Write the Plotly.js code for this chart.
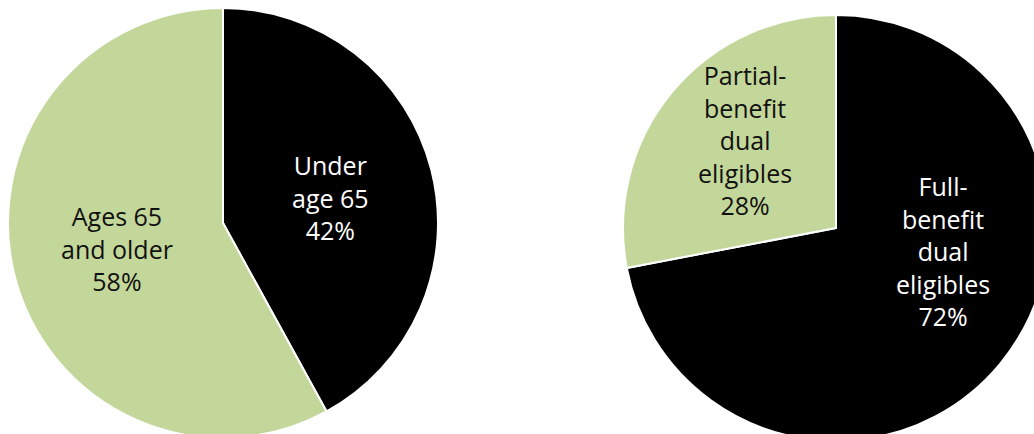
<!DOCTYPE html>
<html>
<head>
<meta charset="utf-8">
<script src="https://cdn.plot.ly/plotly-3.0.1.min.js"></script>
<style>
html,body{margin:0;padding:0;overflow:hidden;background:#fff;width:1034px;height:434px;}
#chart{position:absolute;left:0;top:0;}
</style>
</head>
<body>
<div id="chart"></div>
<script>
// Left pie: by age
const ageLabels = ["Under<br>age 65", "Ages 65<br>and older"];
const ageValues = [42, 58];
// Right pie: by benefit type
const benefitLabels = ["Full-<br>benefit<br>dual<br>eligibles", "Partial-<br>benefit<br>dual<br>eligibles"];
const benefitValues = [72, 28];

const sliceColors = ["#000000", "#c4d79b"];
const textColors = ["#ffffff", "#111111"];

const W = 1060, H = 450;
function dom(cx, cy, r) {
  return {x: [(cx - r) / W, (cx + r) / W], y: [(H - cy - r) / H, (H - cy + r) / H]};
}

const common = {
  type: "pie",
  sort: false,
  direction: "clockwise",
  rotation: 0,
  textinfo: "none",
  hoverinfo: "skip",
  marker: {colors: sliceColors, line: {color: "#ffffff", width: 2}},
  showlegend: false
};

const data = [
  Object.assign({}, common, {labels: ageLabels, values: ageValues, domain: dom(223, 223, 215)}),
  Object.assign({}, common, {labels: benefitLabels, values: benefitValues, domain: dom(836, 228, 213)})
];

// label placement (pixel centres of each text block)
const labelPos = [
  [[330, 197], [117, 248]],
  [[943, 251], [745, 140]]
];

const annotations = [];
[[ageLabels, ageValues], [benefitLabels, benefitValues]].forEach(([labs, vals], p) => {
  const total = vals.reduce((a, b) => a + b, 0);
  labs.forEach((lab, i) => {
    annotations.push({
      xref: "paper", yref: "paper",
      x: labelPos[p][i][0] / W, y: 1 - labelPos[p][i][1] / H,
      xanchor: "center", yanchor: "middle",
      showarrow: false,
      align: "center",
      text: lab + "<br>" + Math.round(vals[i] / total * 100) + "%",
      font: {family: "Open Sans, sans-serif", size: 25, color: textColors[i]}
    });
  });
});

const layout = {
  width: W, height: H,
  margin: {l: 0, r: 0, t: 0, b: 0},
  paper_bgcolor: "#ffffff",
  showlegend: false,
  annotations: annotations
};

Plotly.newPlot("chart", data, layout, {staticPlot: true, displayModeBar: false});
</script>
</body>
</html>
